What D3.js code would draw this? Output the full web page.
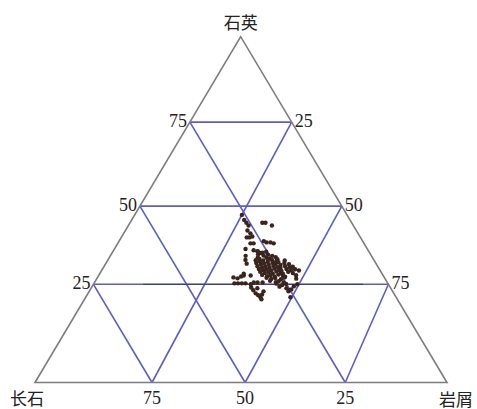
<!DOCTYPE html>
<html>
<head>
<meta charset="utf-8">
<script src="https://cdn.jsdelivr.net/npm/d3@7"></script>
<style>
  html, body { margin: 0; padding: 0; background: #fff; }
  svg { display: block; }
</style>
</head>
<body>
<svg id="chart" width="477" height="409"></svg>
<script>
// Ternary plot: quartz (top) – feldspar (bottom left) – lithic fragments (bottom right)
const endMembers = ["石英", "长石", "岩屑"];
const gridValues = [25, 50, 75];

// Sample compositions (%), one entry per sample
const quartz = [
  47.2,45.6,44.7,43.8,42.2,41.3,40.0,40.3,
  44.7,44.7,43.8,38.8,38.4,38.4,38.1,
  40.0,38.1,38.1,36.3,34.1,32.8,31.6,35.9,35.6,35.0,
  35.5,35.1,35.4,
  34.6,34.2,34.5,34.1,
  33.6,33.1,33.5,33.2,33.7,33.0,
  32.7,32.3,32.6,32.2,32.8,32.4,32.1,32.6,
  31.8,31.4,31.7,31.3,31.9,31.5,31.2,31.8,31.4,
  30.8,30.4,30.7,30.3,30.9,30.5,30.2,30.8,30.4,30.6,
  29.9,29.5,29.8,29.4,30.0,29.6,29.3,29.9,29.5,29.8,29.4,
  29.0,28.6,28.9,28.5,29.1,28.7,28.4,29.0,28.6,
  28.0,27.6,27.9,27.5,28.1,27.7,27.4,27.9,
  27.1,26.7,27.0,26.6,27.2,26.8,
  26.1,25.7,26.0,25.6,
  25.2,24.8,25.1,
  24.4,24.0,
  23.5,
  27.2,26.9,27.5,27.8,25.3,25.3,25.3,25.3,25.0,25.6,25.6,25.6,28.4,27.8,
  24.2,23.5,22.7,22.2,21.7,22.4,23.2,24.0,21.2,
  23.2,23.7,24.5,25.0,21.7
];
const feldspar = [
  26.7,26.9,26.8,26.7,27.8,27.5,28.4,27.5,
  22.7,21.9,20.7,25.3,24.8,23.8,23.1,
  29.1,29.1,28.3,31.3,32.4,33.1,33.4,29.4,28.6,28.1,
  28.5,27.5,26.4,
  28.9,27.7,26.4,25.5,
  29.5,29.3,27.3,26.7,24.8,24.7,
  30.5,29.6,28.6,27.6,26.2,25.3,24.9,23.0,
  30.8,29.8,28.8,27.8,26.5,25.9,24.8,23.5,22.5,
  31.0,30.0,29.0,28.1,26.8,25.8,25.3,23.8,22.8,21.9,
  31.1,30.2,29.2,28.2,27.0,25.9,25.5,23.9,22.9,21.7,20.9,
  31.2,30.2,29.1,28.2,26.9,25.9,25.6,23.9,22.9,
  31.2,30.1,29.1,28.2,26.9,25.9,25.5,22.4,
  30.5,29.5,28.3,27.0,25.8,22.9,
  30.1,28.8,27.9,26.8,
  28.9,27.6,26.4,
  28.5,26.9,
  26.4,
  39.3,38.3,37.0,36.1,40.0,39.0,37.9,36.9,35.7,34.6,33.6,32.3,35.8,34.3,
  36.0,35.8,35.6,35.2,34.9,34.1,33.3,34.5,34.9,
  26.8,25.8,24.7,23.5,27.1
];
const lithic = [
  26.1,27.5,28.5,29.5,30.0,31.2,31.6,32.2,
  32.6,33.4,35.5,35.9,36.8,37.8,38.8,
  30.9,32.8,33.6,32.4,33.5,34.1,35.0,34.7,35.8,36.9,
  36.0,37.4,38.2,
  36.5,38.1,39.1,40.4,
  36.9,37.6,39.2,40.1,41.5,42.3,
  36.8,38.1,38.8,40.2,41.0,42.3,43.0,44.4,
  37.4,38.8,39.5,40.9,41.6,42.6,44.0,44.7,46.1,
  38.2,39.6,40.3,41.6,42.3,43.7,44.5,45.4,46.8,47.5,
  39.0,40.3,41.0,42.4,43.0,44.5,45.2,46.2,47.6,48.5,49.7,
  39.8,41.2,42.0,43.3,44.0,45.4,46.0,47.1,48.5,
  40.8,42.3,43.0,44.3,45.0,46.4,47.1,49.7,
  42.4,43.8,44.7,46.4,47.0,50.3,
  43.8,45.5,46.1,47.6,
  45.9,47.6,48.5,
  47.1,49.1,
  50.1,
  33.5,34.8,35.5,36.1,34.7,35.7,36.8,37.8,39.3,39.8,40.8,42.1,35.8,37.9,
  39.8,40.7,41.7,42.6,43.4,43.5,43.5,41.5,43.9,
  50.0,50.5,50.8,51.5,51.2
];

// Dark reference segment along the 25 % quartz line: lithic range (%)
const boundaryQuartz = 25;
const boundaryLithic = [11.1, 68.5];

// ---- layout ----
const svg = d3.select("#chart");
const apex = [240.7, 36.7], cornerF = [35, 382.5], cornerL = [447, 382.5];

// Axis scale along each edge (percent -> fraction of the edge)
const edge = d3.scaleLinear().domain([0, 25, 50, 75, 100]).range([0, 0.284, 0.51, 0.753, 1]);

function project(q, f, l) {
  const s = q + f + l;
  q = 100 * q / s; f = 100 * f / s; l = 100 * l / s;
  const t = edge(q);
  const y = cornerF[1] + t * (apex[1] - cornerF[1]);
  const xl = cornerF[0] + t * (apex[0] - cornerF[0]);
  const xr = cornerL[0] + t * (apex[0] - cornerL[0]);
  const r = (f + l) > 0 ? edge(100 * l / (f + l)) : 0.5;
  return [xl + r * (xr - xl), y];
}

const line = d3.line();
const gridColor = "#5e5ec2";

// grid lines: constant quartz, feldspar and lithic
const gridG = svg.append("g").attr("fill", "none").attr("stroke", gridColor).attr("stroke-width", 1.6);
gridValues.forEach(v => {
  const segs = [
    [project(v, 100 - v, 0), project(v, 0, 100 - v)],
    [project(0, v, 100 - v), project(100 - v, v, 0)],
    [project(0, 100 - v, v), project(100 - v, 0, v)]
  ];
  segs.forEach(s => gridG.append("path").attr("d", line(s)));
});

svg.append("path")
  .attr("d", line([
    project(boundaryQuartz, 100 - boundaryQuartz - boundaryLithic[0], boundaryLithic[0]),
    project(boundaryQuartz, 100 - boundaryQuartz - boundaryLithic[1], boundaryLithic[1])
  ]))
  .attr("stroke", "#3a3a55").attr("stroke-width", 1.2).attr("stroke-opacity", 0.75).attr("fill", "none");

// outer triangle
svg.append("path")
  .attr("d", line([project(100, 0, 0), project(0, 100, 0), project(0, 0, 100)]) + "Z")
  .attr("fill", "none").attr("stroke", "#7d7d7d").attr("stroke-width", 1.6);

// samples
svg.append("g").selectAll("circle")
  .data(d3.range(quartz.length))
  .join("circle")
  .attr("cx", i => project(quartz[i], feldspar[i], lithic[i])[0])
  .attr("cy", i => project(quartz[i], feldspar[i], lithic[i])[1])
  .attr("r", 2.2)
  .attr("fill", "#3a241e");

// tick labels
const tickG = svg.append("g")
  .attr("font-family", "'Liberation Serif', 'Times New Roman', serif")
  .attr("font-size", 18).attr("fill", "#222");
gridValues.forEach(v => {
  const pl = project(v, 100 - v, 0);
  tickG.append("text").attr("x", pl[0] - 3).attr("y", pl[1] + 5).attr("text-anchor", "end").text(v);
  const pr = project(100 - v, 0, v);
  tickG.append("text").attr("x", pr[0] + 3).attr("y", pr[1] + 5).attr("text-anchor", "start").text(v);
  const pb = project(0, v, 100 - v);
  tickG.append("text").attr("x", pb[0]).attr("y", pb[1] + 21).attr("text-anchor", "middle").text(v);
});

// end-member labels
const capG = svg.append("g")
  .attr("font-family", "'Noto Sans CJK SC', sans-serif")
  .attr("font-size", 17).attr("fill", "#222");
const pQ = project(100, 0, 0), pF = project(0, 100, 0), pL = project(0, 0, 100);
capG.append("text").attr("x", pQ[0]).attr("y", pQ[1] - 8).attr("text-anchor", "middle").text(endMembers[0]);
capG.append("text").attr("x", pF[0] - 25).attr("y", pF[1] + 22).attr("text-anchor", "start").text(endMembers[1]);
capG.append("text").attr("x", pL[0] + 26).attr("y", pL[1] + 23).attr("text-anchor", "end").text(endMembers[2]);
</script>
</body>
</html>
